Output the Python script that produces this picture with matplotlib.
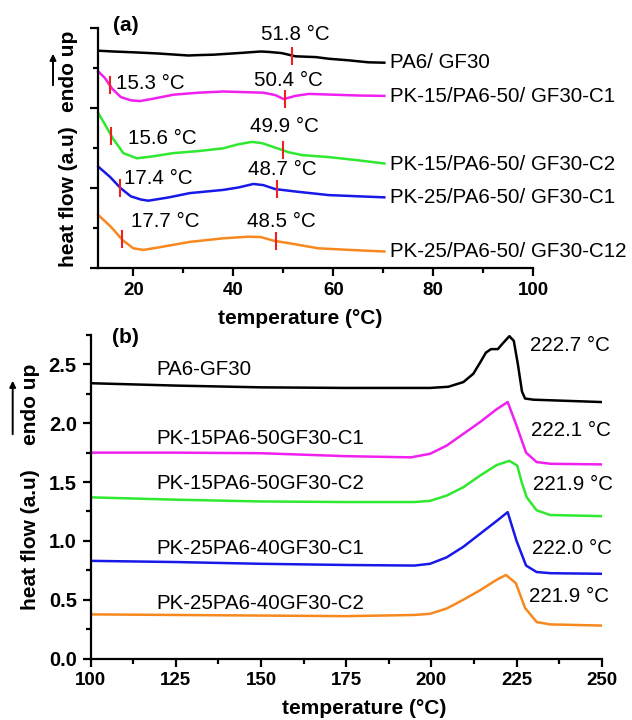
import numpy as np
import matplotlib
matplotlib.use('Agg')
import matplotlib.pyplot as plt
from matplotlib.ticker import MultipleLocator

plt.rcParams['font.family'] = ['Liberation Sans', 'DejaVu Sans']

# --- panel (a): glass transition region ---
a_names = ['PA6/ GF30', 'PK-15/PA6-50/ GF30-C1', 'PK-15/PA6-50/ GF30-C2',
           'PK-25/PA6-50/ GF30-C1', 'PK-25/PA6-50/ GF30-C12']
a_T = [
    [13, 16, 20, 25, 31, 33, 36, 41, 45.5, 47, 49.7, 52.4, 56.5, 59, 63, 67, 70.2],
    [13, 14.3, 15.7, 17.5, 19.5, 21.3, 24, 28, 33, 38, 43.3, 46, 48.4, 50.1, 52.4, 55.1, 60, 65, 70.2],
    [13, 14.5, 15.9, 18, 20.7, 24, 28, 33, 38, 41, 43.7, 45.7, 48.8, 51.1, 53.8, 59.1, 65, 70.2],
    [13, 15.3, 17.5, 19.5, 21.5, 23, 27, 31.3, 38, 41, 44, 46, 48.4, 52.4, 59.1, 65, 70.2],
    [13, 15.5, 17.9, 20, 22, 25, 31.3, 38, 43, 45.5, 48.1, 52.4, 57, 63.2, 70.2],
]
a_hf = [
    [2.72, 2.71, 2.70, 2.685, 2.66, 2.665, 2.67, 2.69, 2.71, 2.705, 2.69, 2.65, 2.64, 2.62, 2.60, 2.575, 2.57],
    [2.46, 2.38, 2.25, 2.14, 2.10, 2.09, 2.12, 2.17, 2.195, 2.21, 2.20, 2.195, 2.165, 2.115, 2.155, 2.18, 2.17, 2.16, 2.155],
    [1.94, 1.78, 1.625, 1.44, 1.375, 1.40, 1.44, 1.465, 1.50, 1.55, 1.58, 1.565, 1.50, 1.45, 1.415, 1.39, 1.35, 1.31],
    [1.27, 1.145, 1.0, 0.90, 0.86, 0.845, 0.885, 0.94, 0.98, 1.01, 1.054, 1.04, 0.99, 0.96, 0.915, 0.90, 0.887],
    [0.666, 0.52, 0.35, 0.25, 0.23, 0.26, 0.33, 0.375, 0.395, 0.39, 0.345, 0.30, 0.25, 0.23, 0.21],
]
a_tg1 = [None, 15.3, 15.6, 17.4, 17.7]
a_tg2 = [51.8, 50.4, 49.9, 48.7, 48.5]

# --- panel (b): melting region ---
b_names = ['PA6-GF30', 'PK-15PA6-50GF30-C1', 'PK-15PA6-50GF30-C2',
           'PK-25PA6-40GF30-C1', 'PK-25PA6-40GF30-C2']
b_T = [
    [100, 125, 150, 175, 199.6, 205, 209.4, 212.3, 214.3, 216, 217.5, 219.5, 221, 222.9, 224.2, 225.4, 226.6, 227.5, 230, 240, 250],
    [100, 125, 150, 175, 194, 199.6, 204.5, 209.4, 214.3, 219.2, 222.4, 225, 227.8, 230.9, 235, 250],
    [100, 125, 150, 175, 195, 199.6, 204.5, 209.4, 214.3, 219.2, 222.9, 225.2, 226.5, 228, 230.9, 234.8, 250],
    [100, 125, 150, 175, 195, 199.6, 204.5, 209.4, 214.3, 219.2, 222.4, 225, 227.8, 230.9, 235, 250],
    [100, 125, 150, 175, 195, 199.6, 204.5, 209.4, 214.3, 219.2, 221.9, 224.8, 227.5, 230.9, 234.8, 250],
]
b_hf = [
    [2.34, 2.32, 2.305, 2.30, 2.30, 2.31, 2.35, 2.42, 2.515, 2.60, 2.63, 2.63, 2.68, 2.74, 2.70, 2.50, 2.27, 2.21, 2.20, 2.19, 2.18],
    [1.75, 1.75, 1.745, 1.72, 1.71, 1.74, 1.81, 1.91, 2.01, 2.12, 2.18, 1.98, 1.75, 1.67, 1.655, 1.65],
    [1.37, 1.35, 1.335, 1.33, 1.33, 1.34, 1.385, 1.456, 1.555, 1.645, 1.68, 1.64, 1.50, 1.37, 1.26, 1.22, 1.21],
    [0.83, 0.82, 0.805, 0.795, 0.79, 0.805, 0.86, 0.95, 1.06, 1.17, 1.244, 1.0, 0.79, 0.735, 0.725, 0.72],
    [0.375, 0.37, 0.365, 0.36, 0.37, 0.38, 0.425, 0.50, 0.58, 0.67, 0.71, 0.64, 0.43, 0.31, 0.29, 0.28],
]
b_tm = [222.7, 222.1, 221.9, 222.0, 221.9]

colors = ['#000000', '#f020f0', '#2fe82f', '#1818e8', '#f7881e']
tick_red = '#ee2020'

fig = plt.figure(figsize=(6.32, 7.2), dpi=100)
W, H = 632, 720


def px_axes(l, t, r, b):
    return fig.add_axes([l / W, 1 - b / H, (r - l) / W, (b - t) / H])


def style(ax):
    for s in ['top', 'right']:
        ax.spines[s].set_visible(False)
    for s in ['left', 'bottom']:
        ax.spines[s].set_linewidth(1.6)
    ax.tick_params(which='major', direction='out', length=6, width=1.6, pad=4)
    ax.tick_params(which='minor', direction='out', length=3.5, width=1.6)
    ax.tick_params(axis='x', labelsize=13.5)
    ax.tick_params(axis='y', labelsize=14.5)
    for lab in ax.get_xticklabels() + ax.get_yticklabels():
        lab.set_fontweight('bold')


# panel (a)
ax1 = px_axes(98.3, 28.3, 533.3, 268.3)
for T, hf, c in zip(a_T, a_hf, colors):
    ax1.plot(T, hf, color=c, lw=1.8, clip_on=False)
ax1.set_xlim(13, 100)
ax1.set_ylim(0, 3)
ax1.xaxis.set_major_locator(MultipleLocator(20))
ax1.xaxis.set_minor_locator(MultipleLocator(10))
ax1.yaxis.set_major_locator(MultipleLocator(1))
ax1.yaxis.set_minor_locator(MultipleLocator(0.5))
ax1.set_yticklabels([])
style(ax1)

# red marks + temperatures
a_lab1_pos = [None, (23.4, 2.31), (25.9, 1.625), (25.0, 1.125), (26.3, 0.58)]
a_lab2_pos = [(52.5, 2.925), (51.1, 2.35), (50.2, 1.776), (49.8, 1.236), (49.7, 0.58)]
for i in range(5):
    for tg, pos in [(a_tg1[i], a_lab1_pos[i]), (a_tg2[i], a_lab2_pos[i])]:
        if tg is None:
            continue
        yc = np.interp(tg, a_T[i], a_hf[i])
        ax1.plot([tg, tg], [yc - 0.1, yc + 0.1], color=tick_red, lw=1.5)
        ax1.text(pos[0], pos[1], f'{tg:.1f} °C', fontsize=14.8, ha='center', va='center')
a_name_y = [2.57, 2.15, 1.295, 0.89, 0.215]
for name, y in zip(a_names, a_name_y):
    ax1.text(71.4, y, name, fontsize=14.8, ha='left', va='center', clip_on=False)
ax1.text(18.5, 3.04, '(a)', fontsize=15, fontweight='bold', ha='center', va='center')
fig.text(300 / W, 1 - 318 / H, 'temperature (°C)', fontsize=15, fontweight='bold',
         ha='center', va='center')
fig.text(68 / W, 1 - 197 / H, 'heat flow (a.u)', fontsize=15, fontweight='bold',
         rotation=90, ha='center', va='center')
fig.text(68 / W, 1 - 71 / H, 'endo up', fontsize=15, fontweight='bold',
         rotation=90, ha='center', va='center')
fig.add_artist(matplotlib.patches.FancyArrowPatch(
    (53 / W, 1 - 88 / H), (53 / W, 1 - 51 / H), transform=fig.transFigure,
    arrowstyle='-|>', mutation_scale=9, lw=1.4, color='black'))

# panel (b)
ax2 = px_axes(90.7, 335, 601.7, 658.5)
for T, hf, c in zip(b_T, b_hf, colors):
    ax2.plot(T, hf, color=c, lw=1.8)
ax2.set_xlim(100, 250)
ax2.set_ylim(0, 2.75)
ax2.xaxis.set_major_locator(MultipleLocator(25))
ax2.xaxis.set_minor_locator(MultipleLocator(12.5))
ax2.yaxis.set_major_locator(MultipleLocator(0.5))
ax2.yaxis.set_minor_locator(MultipleLocator(0.25))
ax2.yaxis.set_major_formatter(matplotlib.ticker.FormatStrFormatter('%.1f'))
style(ax2)

b_lab_pos = [(240.8, 2.66), (241.1, 1.94), (241.6, 1.48), (241.2, 0.934), (240.4, 0.524)]
for tm, pos in zip(b_tm, b_lab_pos):
    ax2.text(pos[0], pos[1], f'{tm:.1f} °C', fontsize=14.8, ha='center', va='center', clip_on=False)
b_name_y = [2.46, 1.866, 1.485, 0.934, 0.468]
for name, y in zip(b_names, b_name_y):
    ax2.text(119.2, y, name, fontsize=14.8, ha='left', va='center')
ax2.text(110.1, 2.73, '(b)', fontsize=15, fontweight='bold', ha='center', va='center')
fig.text(364 / W, 1 - 708 / H, 'temperature (°C)', fontsize=15, fontweight='bold',
         ha='center', va='center')
fig.text(30 / W, 1 - 540 / H, 'heat flow (a.u)', fontsize=15, fontweight='bold',
         rotation=90, ha='center', va='center')
fig.text(30 / W, 1 - 404 / H, 'endo up', fontsize=15, fontweight='bold',
         rotation=90, ha='center', va='center')
fig.add_artist(matplotlib.patches.FancyArrowPatch(
    (12.7 / W, 1 - 437 / H), (12.7 / W, 1 - 378 / H), transform=fig.transFigure,
    arrowstyle='-|>', mutation_scale=9, lw=1.4, color='black'))

fig.savefig('out.png', dpi=100)
